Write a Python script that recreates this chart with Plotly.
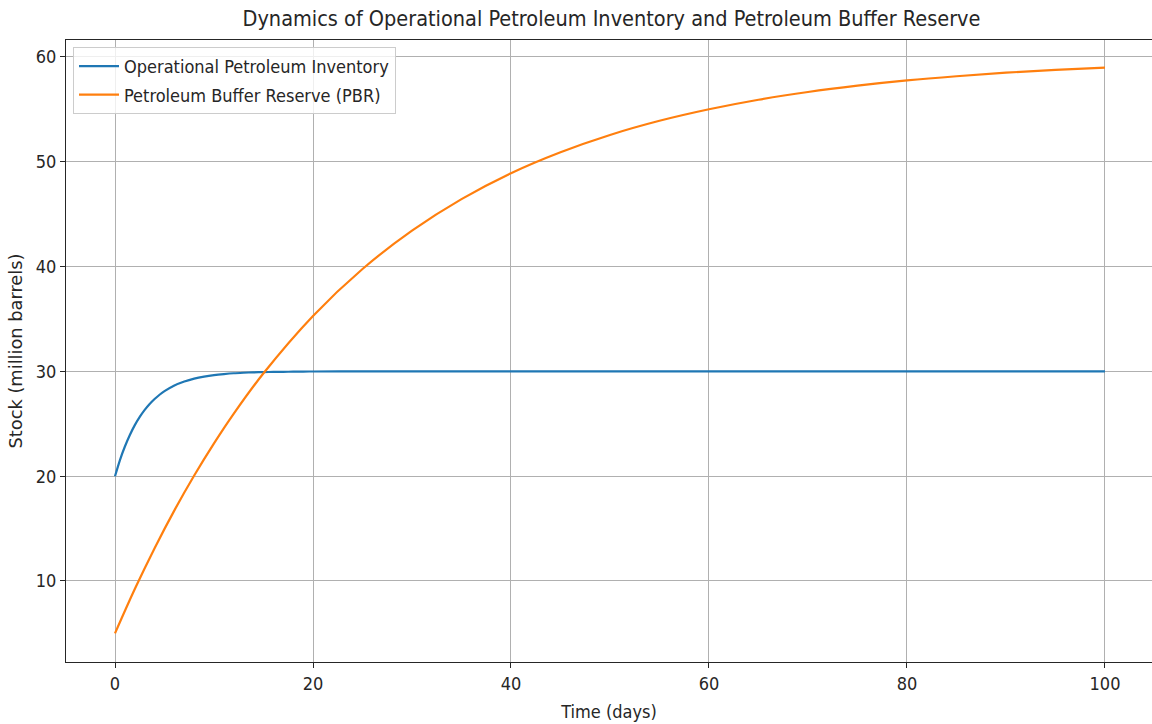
import plotly.graph_objects as go

# Data
t_ops = [0, 0.5, 1, 1.5, 2, 2.5, 3, 3.5, 4, 4.5, 5, 6, 7, 8, 9, 10, 11, 12, 13, 14, 15, 16, 17, 18, 19, 20,
         25, 30, 35, 40, 45, 50, 55, 60, 65, 70, 75, 80, 85, 90, 95, 100]
ops = [20.0, 21.54, 22.83, 23.93, 24.87, 25.65, 26.32, 26.89, 27.36, 27.77, 28.11, 28.65, 29.03, 29.31,
       29.50, 29.64, 29.74, 29.82, 29.87, 29.91, 29.93, 29.95, 29.96, 29.97, 29.98, 29.99,
       30.0, 30.0, 30.0, 30.0, 30.0, 30.0, 30.0, 30.0, 30.0, 30.0, 30.0, 30.0, 30.0, 30.0, 30.0, 30.0]

t_pbr = [0, 2, 4, 6, 8, 10, 12, 15, 20, 25, 30, 35, 40, 45, 50, 55, 60, 65, 70, 75, 80, 85, 90, 95, 100]
pbr = [5.0, 9.23, 13.13, 16.74, 20.06, 23.13, 25.97, 29.82, 35.29, 39.77, 43.43, 46.44, 48.91, 50.91,
       52.56, 53.91, 55.01, 55.92, 56.66, 57.26, 57.76, 58.16, 58.50, 58.77, 58.99]

x_ticks = [0, 20, 40, 60, 80, 100]
y_ticks = [10, 20, 30, 40, 50, 60]

FONT_C = "DejaVu Sans Condensed, DejaVu Sans"
FONT = "DejaVu Sans"
TXT = "#262626"
W, H = 1152, 724
L, R, T, B = 66, 0, 40, 62

fig = go.Figure()
fig.add_trace(go.Scatter(x=t_ops, y=ops, mode="lines", name="Operational Petroleum Inventory",
                         legendgroup="a",
                         line=dict(color="#1f77b4", width=2.2, shape="spline", smoothing=0.7)))
fig.add_trace(go.Scatter(x=t_pbr, y=pbr, mode="lines", name="Petroleum Buffer Reserve (PBR)",
                         legendgroup="b", line=dict(color="#ff7f0e", width=2.2, shape="spline")))

fig.update_layout(
    width=W, height=H,
    margin=dict(l=L, r=R, t=T, b=B),
    paper_bgcolor="white", plot_bgcolor="white",
    font=dict(family=FONT_C, size=18, color=TXT),
    title=dict(text="Dynamics of Operational Petroleum Inventory and Petroleum Buffer Reserve",
               x=(240 + 983) / 2 / W, xanchor="center", y=1 - 18 / H, yanchor="middle",
               font=dict(family=FONT_C, size=21.5, color=TXT)),
    legend=dict(x=(73 - L) / (W - L - R), y=(H - B - 47) / (H - T - B), xanchor="left", yanchor="top",
                bgcolor="rgba(255,255,255,0.8)", bordercolor="#cccccc", borderwidth=1,
                font=dict(family=FONT_C, size=18, color=TXT), tracegroupgap=2,
                traceorder="grouped", itemwidth=40),
    showlegend=True,
)
fig.update_xaxes(range=[-4.95, 104.75], tickvals=x_ticks, ticks="outside", ticklen=5, tickcolor=TXT,
                 showline=True, linecolor=TXT, linewidth=1.3, mirror=True,
                 showgrid=True, gridcolor="#b0b0b0", gridwidth=1, zeroline=False,
                 title=dict(text="Time (days)", font=dict(family=FONT_C, size=18), standoff=12),
                 tickfont=dict(family=FONT_C, size=18))
fig.update_yaxes(range=[2.27, 61.62], tickvals=y_ticks, ticks="outside", ticklen=5, tickcolor=TXT,
                 showline=True, linecolor=TXT, linewidth=1.3, mirror=False,
                 showgrid=True, gridcolor="#b0b0b0", gridwidth=1, zeroline=False,
                 title=dict(text="Stock (million barrels)", font=dict(family=FONT, size=17.8), standoff=8),
                 tickfont=dict(family=FONT_C, size=18))

fig.write_html("out.html", config={"displayModeBar": False},
               post_script="document.body.style.margin='0';document.body.style.overflow='hidden';")
